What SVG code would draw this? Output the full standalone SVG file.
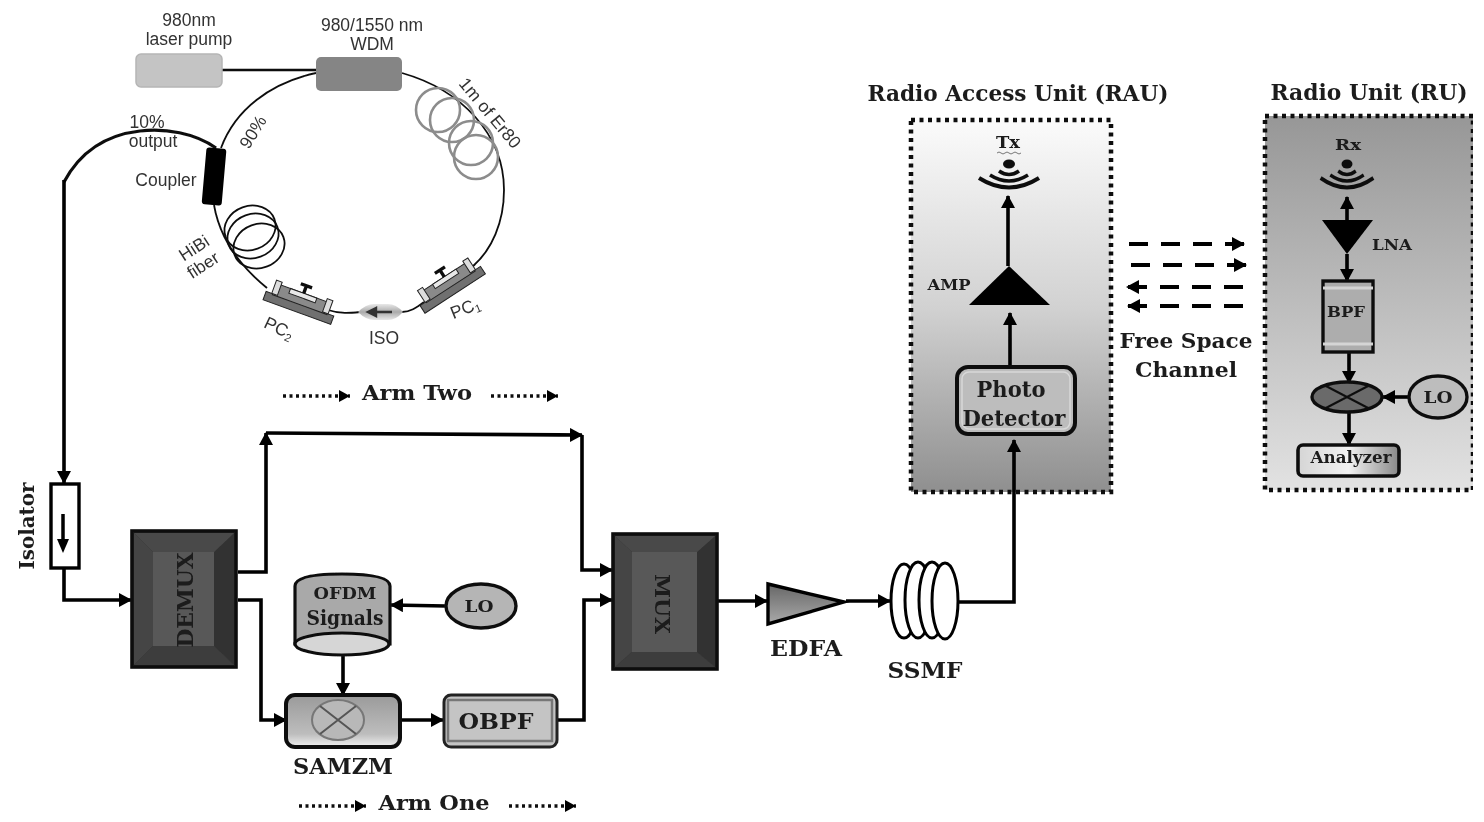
<svg xmlns="http://www.w3.org/2000/svg" width="1484" height="822" viewBox="0 0 1484 822">
<style>
text{text-anchor:middle}
.s{font-family:"Liberation Sans",Arial,sans-serif;fill:#333;font-size:17.5px}
.t{font-family:"DejaVu Serif","Liberation Serif",serif;font-weight:bold;fill:#1c1c1c}
.w{fill:none;stroke:#111;stroke-width:3.2}
.c{fill:none;stroke:#000;stroke-width:3.6;marker-end:url(#a)}
.f{fill:none;stroke:#111;stroke-width:1.8}
.dash{fill:none;stroke:#000;stroke-width:4;stroke-dasharray:19 13;marker-end:url(#a)}
.dot{fill:none;stroke:#111;stroke-width:3.4;stroke-dasharray:3 3.5;marker-end:url(#d)}
.er{fill:none;stroke:#8c8c8c;stroke-width:2.6}
.hb{fill:none;stroke:#111;stroke-width:1.8}
.box{stroke:#111;stroke-width:4.5;stroke-dasharray:4 4.5}
</style>
<defs>
<marker id="a" markerUnits="userSpaceOnUse" markerWidth="14" markerHeight="16" refX="12" refY="7" orient="auto"><path d="M0,0 L13,7 L0,14 Z" fill="#000"/></marker>
<marker id="d" markerUnits="userSpaceOnUse" markerWidth="14" markerHeight="14" refX="11" refY="6" orient="auto"><path d="M0,0 L11,6 L0,12 Z" fill="#000"/></marker>
<linearGradient id="rau" x1="0" y1="0" x2="0" y2="1"><stop offset="0" stop-color="#fbfbfb"/><stop offset=".5" stop-color="#d2d2d2"/><stop offset="1" stop-color="#8f8f8f"/></linearGradient>
<linearGradient id="ru" x1="0" y1="0" x2="0" y2="1"><stop offset="0" stop-color="#979797"/><stop offset="1" stop-color="#e2e2e2"/></linearGradient>
<linearGradient id="sam" x1="0" y1="0" x2="0" y2="1"><stop offset="0" stop-color="#9a9a9a"/><stop offset=".75" stop-color="#bdbdbd"/><stop offset="1" stop-color="#f0f0f0"/></linearGradient>
<linearGradient id="edfa" x1="0" y1="0" x2="0" y2="1"><stop offset="0" stop-color="#666"/><stop offset="1" stop-color="#aaa"/></linearGradient>
<linearGradient id="an" x1="0" y1="0" x2="1" y2="0"><stop offset="0" stop-color="#d5d5d5"/><stop offset=".5" stop-color="#f2f2f2"/><stop offset="1" stop-color="#888"/></linearGradient>
<linearGradient id="iso" x1="0" y1="0" x2="0" y2="1"><stop offset="0" stop-color="#e8e8e8"/><stop offset=".5" stop-color="#aaa"/><stop offset="1" stop-color="#e8e8e8"/></linearGradient>
<filter id="b" x="0" y="0" width="1" height="1"><feGaussianBlur stdDeviation="0.55"/></filter>
<g id="pc">
<rect x="-36" y="6" width="72" height="9" fill="#6f6f6f" stroke="#222" stroke-width="1"/>
<rect x="-29" y="-5" width="58" height="12" fill="#8a8a8a" stroke="#222" stroke-width="1"/>
<rect x="-14" y="-5" width="28" height="5" fill="#e8e8e8" stroke="#222" stroke-width="1"/>
<rect x="-30" y="-8" width="6" height="14" fill="#ddd" stroke="#222" stroke-width="1"/>
<rect x="24" y="-8" width="6" height="14" fill="#ddd" stroke="#222" stroke-width="1"/>
<path d="M0,-5 V-12 M-6,-13 H6" stroke="#111" stroke-width="3.4" fill="none"/>
</g>
<g id="wifi" fill="none" stroke="#111">
<path d="M-10,8 Q0,15 10,8" stroke-width="3.6"/>
<path d="M-19,12 Q0,24 19,12" stroke-width="3.6"/>
<path d="M-30,15 Q0,34 30,15" stroke-width="4"/>
</g>
</defs>
<rect width="1484" height="822" fill="#fff"/>
<g filter="url(#b)">

<g id="rau-box"><rect x="911" y="120" width="200" height="372" fill="url(#rau)" class="box"/>
<text class="t" x="1018" y="101" font-size="23" textLength="301" lengthAdjust="spacingAndGlyphs">Radio Access Unit (RAU)</text></g>
<g id="ru-box"><rect x="1265" y="116" width="208" height="374" fill="url(#ru)" class="box"/>
<text class="t" x="1369" y="100" font-size="23" textLength="197" lengthAdjust="spacingAndGlyphs">Radio Unit (RU)</text></g>

<g id="connectors">
<path d="M222,70 H316" stroke="#111" stroke-width="2.4" fill="none"/>
<path class="f" d="M402,73 C462,90 504,135 504,190 C504,222 492,250 472,267"/>
<path class="f" d="M316,73 C270,83 235,110 221,148"/>
<path class="f" d="M214,205 C220,240 240,266 267,288"/>
<path class="f" d="M328,310 C340,314 350,313 360,312"/>
<path class="f" d="M402,312 C410,312 416,308 424,302"/>
<path class="w" d="M216,148 C195,133 165,128 140,131 C105,135 80,152 64,182"/>
<path class="c" d="M64,180 V483"/>
<path class="c" d="M64,568 V600 H131"/>
<path class="c" d="M238,572 H266 V433"/>
<path class="c" d="M266,433 L582,435"/>
<path class="c" d="M582,435 V570 H612"/>
<path class="c" d="M238,600 H261 V720 H286"/>
<path class="c" d="M446,606 L391,605"/>
<path class="c" d="M343,655 V695"/>
<path class="c" d="M400,720 H443"/>
<path class="c" d="M557,720 H584 V600 H612"/>
<path class="c" d="M718,601 H767"/>
<path class="c" d="M846,601 H890"/>
<path class="c" d="M958,602 H1014 V440"/>
<path class="c" d="M1010,366 V313"/>
<path class="c" d="M1008,266 V196"/>
<path class="c" d="M1347,222 V197"/>
<path class="c" d="M1347,254 V281"/>
<path class="c" d="M1349,352 V383"/>
<path class="c" d="M1410,397 H1383"/>
<path class="c" d="M1349,413 V445"/>
<path class="dash" d="M1129,244 H1244"/>
<path class="dash" d="M1131,265 H1246"/>
<path class="dash" d="M1243,287 H1127"/>
<path class="dash" d="M1243,306 H1128"/>
<path class="dot" d="M283,396 H350"/>
<path class="dot" d="M491,396 H558"/>
<path class="dot" d="M299,806 H366"/>
<path class="dot" d="M509,806 H576"/>
</g>

<g id="laser-pump"><rect x="136" y="54" width="86" height="33" rx="5" fill="#c4c4c4" stroke="#b5b5b5" stroke-width="1.5"/>
<text class="s" x="189" y="26">980nm</text><text class="s" x="189" y="45">laser pump</text></g>
<g id="wdm"><rect x="316" y="57" width="86" height="34" rx="5" fill="#858585"/>
<text class="s" x="372" y="31">980/1550 nm</text><text class="s" x="372" y="50">WDM</text></g>
<g id="er80"><circle class="er" cx="438" cy="110" r="22"/><circle class="er" cx="452" cy="120" r="22"/><circle class="er" cx="471" cy="143" r="22"/><circle class="er" cx="476" cy="157" r="22"/>
<text class="s" transform="translate(490,113) rotate(50)" y="6">1m of Er80</text></g>
<g id="coupler"><rect x="204" y="148" width="20" height="57" rx="3" fill="#000" transform="rotate(5 214 177)"/>
<text class="s" x="166" y="186">Coupler</text>
<text class="s" x="147" y="128">10%</text><text class="s" x="153" y="147">output</text>
<text class="s" transform="translate(253,132) rotate(-58)" y="6">90%</text></g>
<g id="hibi"><ellipse class="hb" cx="250" cy="228" rx="26" ry="22" transform="rotate(-20 250 228)"/><ellipse class="hb" cx="253" cy="236" rx="26" ry="22" transform="rotate(-20 253 236)"/><ellipse class="hb" cx="259" cy="246" rx="26" ry="22" transform="rotate(-20 259 246)"/>
<text class="s" transform="translate(194,248) rotate(-33)" y="6">HiBi</text><text class="s" transform="translate(203,265) rotate(-33)" y="6">fiber</text></g>
<g id="pc2"><use href="#pc" transform="translate(302,298) rotate(20)"/>
<text class="s" transform="translate(279,328) rotate(25)" y="6">PC<tspan font-size="11" dy="3">2</tspan></text></g>
<g id="iso-inline"><path d="M358,312 Q366,304 374,304 H388 Q396,304 403,312 Q396,320 388,320 H374 Q366,320 358,312 Z" fill="url(#iso)"/>
<path d="M392,312 H370 M376,308 L368,312 L376,316 Z" stroke="#333" stroke-width="2.4" fill="#333"/>
<text class="s" x="384" y="344">ISO</text></g>
<g id="pc1"><use href="#pc" transform="translate(447,281) rotate(-33)"/>
<text class="s" transform="translate(465,308) rotate(-22)" y="6">PC<tspan font-size="11" dy="3">1</tspan></text></g>

<g id="isolator"><rect x="51" y="484" width="28" height="84" fill="#fff" stroke="#000" stroke-width="3.4"/>
<path d="M63,514 V540" stroke="#000" stroke-width="3.5"/><path d="M57,539 H69 L63,553 Z" fill="#000"/>
<text class="t" transform="translate(34,526) rotate(-90)" font-size="21" textLength="87" lengthAdjust="spacingAndGlyphs">Isolator</text></g>

<g id="demux"><rect x="132" y="531" width="104" height="136" fill="#333" stroke="#111" stroke-width="3.6"/>
<polygon points="134,533 234,533 214,552 153,552" fill="#4a4a4a"/><polygon points="134,533 153,552 153,646 134,665" fill="#454545"/><polygon points="134,665 153,646 214,646 234,665" fill="#3c3c3c"/>
<rect x="153" y="552" width="61" height="94" fill="#585858"/>
<text class="t" transform="translate(193,600) rotate(-90)" font-size="23" textLength="95" lengthAdjust="spacingAndGlyphs" style="fill:#1a1a1a">DEMUX</text></g>

<g id="ofdm"><path d="M295,586 Q295,574 342,574 Q390,574 390,586 V644 H295 Z" fill="#a9a9a9" stroke="#111" stroke-width="3.2"/>
<ellipse cx="342" cy="644" rx="47" ry="11" fill="#d6d6d6" stroke="#111" stroke-width="3.2"/>
<text class="t" x="345" y="599" font-size="17" textLength="63" lengthAdjust="spacingAndGlyphs">OFDM</text>
<text class="t" x="345" y="625" font-size="20" textLength="77" lengthAdjust="spacingAndGlyphs">Signals</text></g>
<g id="lo1"><ellipse cx="481" cy="606" rx="35" ry="22" fill="#b5b5b5" stroke="#111" stroke-width="3.4"/>
<text class="t" x="479" y="612" font-size="17" textLength="29" lengthAdjust="spacingAndGlyphs">LO</text></g>

<g id="samzm"><rect x="286" y="695" width="114" height="52" rx="9" fill="url(#sam)" stroke="#111" stroke-width="4"/>
<ellipse cx="338" cy="720" rx="26" ry="20" fill="#b8b8b8" stroke="#777" stroke-width="2"/>
<path d="M320,706 L356,734 M356,706 L320,734" stroke="#555" stroke-width="2"/>
<text class="t" x="343" y="774" font-size="23" textLength="100" lengthAdjust="spacingAndGlyphs">SAMZM</text></g>
<g id="obpf"><rect x="444" y="695" width="113" height="52" rx="7" fill="#c4c4c4" stroke="#222" stroke-width="3"/>
<path d="M448,700 H552 V741 H448 Z" fill="none" stroke="#777" stroke-width="2.5"/>
<text class="t" x="496" y="729" font-size="23" textLength="75" lengthAdjust="spacingAndGlyphs">OBPF</text></g>

<g id="mux"><rect x="613" y="534" width="104" height="135" fill="#333" stroke="#111" stroke-width="3.6"/>
<polygon points="615,536 715,536 697,552 632,552" fill="#4a4a4a"/><polygon points="615,536 632,552 632,652 615,667" fill="#454545"/><polygon points="615,667 632,652 697,652 715,667" fill="#3c3c3c"/>
<rect x="632" y="552" width="65" height="100" fill="#585858"/>
<text class="t" transform="translate(655,604) rotate(90)" font-size="20" textLength="60" lengthAdjust="spacingAndGlyphs" style="fill:#1a1a1a">MUX</text></g>

<g id="edfa-node"><polygon points="768,584 768,624 844,602" fill="url(#edfa)" stroke="#000" stroke-width="3.4"/>
<text class="t" x="806" y="656" font-size="22" textLength="72" lengthAdjust="spacingAndGlyphs">EDFA</text></g>
<g id="ssmf"><g fill="#fff" stroke="#000" stroke-width="3"><ellipse cx="904" cy="601" rx="13" ry="37"/><ellipse cx="918" cy="600" rx="13" ry="38"/><ellipse cx="932" cy="600" rx="13" ry="38"/><ellipse cx="945" cy="601" rx="13" ry="38"/></g>
<text class="t" x="925" y="678" font-size="22" textLength="75" lengthAdjust="spacingAndGlyphs">SSMF</text></g>

<g id="tx"><text class="t" x="1008" y="148" font-size="16" textLength="24" lengthAdjust="spacingAndGlyphs">Tx</text>
<path d="M997,153 q2,-2 4,0 t4,0 t4,0 t4,0 t4,0 t4,0" fill="none" stroke="#777" stroke-width="1"/>
<ellipse cx="1009" cy="164" rx="6" ry="4.5" fill="#111"/><use href="#wifi" x="1009" y="163"/></g>
<g id="amp"><polygon points="969,305 1050,305 1009,266" fill="#000"/>
<text class="t" x="949" y="290" font-size="15" textLength="43" lengthAdjust="spacingAndGlyphs">AMP</text></g>
<g id="photo"><rect x="957" y="367" width="118" height="67" rx="11" fill="#bdbdbd" stroke="#111" stroke-width="4"/>
<rect x="962" y="372" width="108" height="57" rx="7" fill="none" stroke="#d8d8d8" stroke-width="1.5"/>
<text class="t" x="1011" y="397" font-size="22" textLength="69" lengthAdjust="spacingAndGlyphs">Photo</text>
<text class="t" x="1014" y="426" font-size="22" textLength="103" lengthAdjust="spacingAndGlyphs">Detector</text></g>

<g id="free-space"><text class="t" x="1186" y="348" font-size="21" textLength="133" lengthAdjust="spacingAndGlyphs">Free Space</text>
<text class="t" x="1186" y="377" font-size="21" textLength="102" lengthAdjust="spacingAndGlyphs">Channel</text></g>

<g id="rx"><text class="t" x="1348" y="150" font-size="15" textLength="26" lengthAdjust="spacingAndGlyphs">Rx</text>
<ellipse cx="1347" cy="164" rx="5.5" ry="4.5" fill="#111"/><use href="#wifi" transform="translate(1347,163) scale(.88,1)"/></g>
<g id="lna"><polygon points="1322,220 1373,220 1347,254" fill="#000"/>
<text class="t" x="1392" y="250" font-size="14" textLength="40" lengthAdjust="spacingAndGlyphs">LNA</text></g>
<g id="bpf"><rect x="1323" y="281" width="50" height="71" fill="#adadad" stroke="#111" stroke-width="3.4"/>
<path d="M1323,288 H1373 M1323,344 H1373" stroke="#d5d5d5" stroke-width="3"/>
<text class="t" x="1346" y="317" font-size="15" textLength="38" lengthAdjust="spacingAndGlyphs">BPF</text></g>
<g id="mixer"><ellipse cx="1347" cy="397" rx="35" ry="15" fill="#6a6a6a" stroke="#111" stroke-width="3.4"/>
<path d="M1324,385 L1370,409 M1370,385 L1324,409" stroke="#111" stroke-width="2.2"/></g>
<g id="lo2"><ellipse cx="1438" cy="397" rx="29" ry="21" fill="#bdbdbd" stroke="#111" stroke-width="3.4"/>
<text class="t" x="1438" y="403" font-size="17" textLength="29" lengthAdjust="spacingAndGlyphs">LO</text></g>
<g id="analyzer"><rect x="1298" y="445" width="101" height="31" rx="5" fill="url(#an)" stroke="#111" stroke-width="3.6"/>
<text class="t" x="1351" y="463" font-size="16" textLength="81" lengthAdjust="spacingAndGlyphs">Analyzer</text></g>

<g id="arm-labels"><text class="t" x="417" y="400" font-size="21" textLength="110" lengthAdjust="spacingAndGlyphs">Arm Two</text>
<text class="t" x="434" y="810" font-size="21" textLength="111" lengthAdjust="spacingAndGlyphs">Arm One</text></g>
</g>
</svg>
